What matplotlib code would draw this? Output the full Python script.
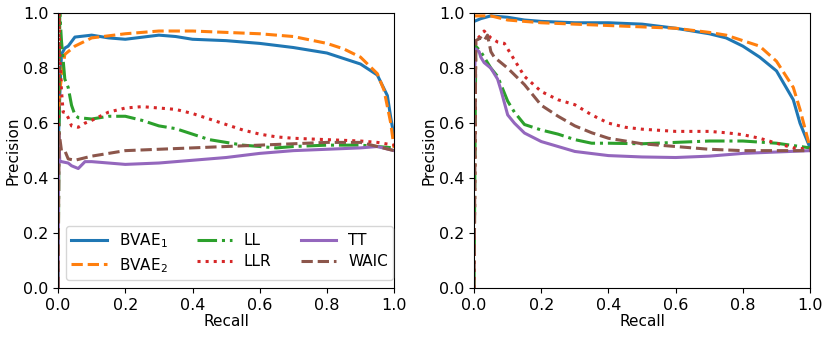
import numpy as np
import matplotlib
matplotlib.use("Agg")
import matplotlib.pyplot as plt

# ---- left panel ----
l_bvae1_r = [0.0, 0.005, 0.01, 0.02, 0.03, 0.05, 0.1, 0.15, 0.2, 0.3, 0.35, 0.4, 0.5, 0.6, 0.7, 0.8, 0.85, 0.9, 0.95, 0.98, 0.99, 1.0]
l_bvae1_p = [0.5, 0.70, 0.85, 0.873, 0.88, 0.913, 0.92, 0.91, 0.905, 0.92, 0.915, 0.905, 0.90, 0.89, 0.875, 0.855, 0.835, 0.815, 0.775, 0.70, 0.62, 0.55]

l_bvae2_r = [0.0, 0.005, 0.02, 0.05, 0.1, 0.2, 0.3, 0.4, 0.5, 0.6, 0.7, 0.8, 0.85, 0.9, 0.95, 0.97, 0.99, 1.0]
l_bvae2_p = [0.6, 0.72, 0.85, 0.88, 0.91, 0.925, 0.935, 0.935, 0.93, 0.925, 0.915, 0.89, 0.87, 0.84, 0.78, 0.72, 0.60, 0.51]

l_ll_r = [0.0, 0.005, 0.01, 0.02, 0.03, 0.04, 0.05, 0.06, 0.1, 0.15, 0.2, 0.25, 0.3, 0.35, 0.4, 0.45, 0.5, 0.55, 0.6, 0.65, 0.7, 0.8, 0.9, 1.0]
l_ll_p = [0.0, 1.0, 0.90, 0.76, 0.73, 0.665, 0.63, 0.62, 0.615, 0.625, 0.625, 0.61, 0.59, 0.58, 0.56, 0.54, 0.53, 0.52, 0.515, 0.51, 0.515, 0.52, 0.52, 0.51]

l_llr_r = [0.0, 0.003, 0.005, 0.01, 0.015, 0.02, 0.03, 0.04, 0.06, 0.08, 0.1, 0.15, 0.2, 0.25, 0.3, 0.35, 0.4, 0.45, 0.5, 0.55, 0.6, 0.65, 0.7, 0.8, 0.9, 0.95, 1.0]
l_llr_p = [0.0, 1.0, 0.85, 0.72, 0.64, 0.64, 0.62, 0.59, 0.585, 0.60, 0.61, 0.64, 0.655, 0.66, 0.655, 0.65, 0.635, 0.615, 0.595, 0.575, 0.56, 0.55, 0.545, 0.54, 0.535, 0.53, 0.52]

l_tt_r = [0.0, 0.002, 0.005, 0.01, 0.03, 0.04, 0.06, 0.08, 0.1, 0.15, 0.2, 0.3, 0.4, 0.5, 0.6, 0.7, 0.8, 0.9, 0.95, 1.0]
l_tt_p = [0.0, 0.56, 0.46, 0.46, 0.455, 0.445, 0.435, 0.46, 0.46, 0.455, 0.45, 0.455, 0.465, 0.475, 0.49, 0.50, 0.505, 0.51, 0.515, 0.50]

l_waic_r = [0.0, 0.003, 0.01, 0.02, 0.03, 0.05, 0.1, 0.2, 0.3, 0.4, 0.5, 0.6, 0.7, 0.8, 0.9, 1.0]
l_waic_p = [0.0, 0.565, 0.50, 0.50, 0.47, 0.465, 0.48, 0.50, 0.505, 0.51, 0.515, 0.52, 0.525, 0.53, 0.53, 0.50]

# ---- right panel ----
r_bvae1_r = [0.0, 0.02, 0.05, 0.1, 0.15, 0.2, 0.3, 0.4, 0.5, 0.6, 0.7, 0.75, 0.8, 0.85, 0.9, 0.95, 0.97, 1.0]
r_bvae1_p = [0.97, 0.98, 0.99, 0.985, 0.975, 0.97, 0.965, 0.965, 0.96, 0.945, 0.925, 0.91, 0.88, 0.84, 0.79, 0.685, 0.60, 0.51]

r_bvae2_r = [0.0, 0.05, 0.1, 0.2, 0.3, 0.4, 0.5, 0.6, 0.7, 0.75, 0.8, 0.85, 0.9, 0.95, 0.97, 1.0]
r_bvae2_p = [0.99, 0.99, 0.975, 0.965, 0.96, 0.955, 0.95, 0.945, 0.93, 0.92, 0.90, 0.88, 0.825, 0.73, 0.65, 0.51]

r_ll_r = [0.0, 0.005, 0.02, 0.05, 0.07, 0.08, 0.1, 0.12, 0.15, 0.2, 0.25, 0.3, 0.35, 0.4, 0.5, 0.6, 0.7, 0.8, 0.9, 1.0]
r_ll_p = [0.0, 0.88, 0.86, 0.80, 0.77, 0.74, 0.68, 0.64, 0.595, 0.575, 0.56, 0.54, 0.527, 0.527, 0.525, 0.53, 0.535, 0.535, 0.527, 0.51]

r_llr_r = [0.0, 0.005, 0.02, 0.03, 0.05, 0.07, 0.09, 0.1, 0.12, 0.15, 0.2, 0.25, 0.3, 0.35, 0.4, 0.45, 0.5, 0.6, 0.7, 0.75, 0.8, 0.85, 0.9, 0.95, 1.0]
r_llr_p = [0.0, 0.90, 0.92, 0.935, 0.91, 0.895, 0.89, 0.87, 0.83, 0.77, 0.715, 0.685, 0.667, 0.63, 0.60, 0.585, 0.578, 0.57, 0.57, 0.565, 0.558, 0.545, 0.527, 0.51, 0.505]

r_tt_r = [0.0, 0.005, 0.015, 0.02, 0.03, 0.05, 0.07, 0.08, 0.1, 0.12, 0.15, 0.2, 0.25, 0.3, 0.4, 0.5, 0.6, 0.7, 0.8, 0.9, 1.0]
r_tt_p = [0.75, 0.87, 0.86, 0.84, 0.82, 0.80, 0.76, 0.72, 0.63, 0.60, 0.564, 0.533, 0.515, 0.497, 0.482, 0.477, 0.475, 0.48, 0.49, 0.495, 0.50]

r_waic_r = [0.0, 0.005, 0.02, 0.03, 0.04, 0.05, 0.06, 0.1, 0.15, 0.2, 0.25, 0.3, 0.35, 0.4, 0.5, 0.6, 0.7, 0.8, 0.9, 1.0]
r_waic_p = [0.0, 0.90, 0.91, 0.90, 0.92, 0.86, 0.84, 0.80, 0.74, 0.665, 0.625, 0.59, 0.565, 0.545, 0.525, 0.515, 0.505, 0.50, 0.50, 0.50]

labels = ['BVAE$_1$', 'BVAE$_2$', 'LL', 'LLR', 'TT', 'WAIC']
colors = ['#1f77b4', '#ff7f0e', '#2ca02c', '#d62728', '#9467bd', '#8c564b']
styles = ['-', '--', '-.', ':', '-', '--']

left = [(l_bvae1_r, l_bvae1_p), (l_bvae2_r, l_bvae2_p), (l_ll_r, l_ll_p),
        (l_llr_r, l_llr_p), (l_tt_r, l_tt_p), (l_waic_r, l_waic_p)]
right = [(r_bvae1_r, r_bvae1_p), (r_bvae2_r, r_bvae2_p), (r_ll_r, r_ll_p),
         (r_llr_r, r_llr_p), (r_tt_r, r_tt_p), (r_waic_r, r_waic_p)]

plt.rcParams.update({'font.size': 11})
fig, axes = plt.subplots(1, 2, figsize=(8.3, 3.37), dpi=100)
fig.subplots_adjust(left=0.07, right=0.976, top=0.961, bottom=0.145, wspace=0.238)

for ax, panel in zip(axes, [left, right]):
    for (r, p), lab, c, ls in zip(panel, labels, colors, styles):
        ax.plot(r, p, color=c, linestyle=ls, linewidth=2.2, label=lab)
    ax.set_xlim(0, 1)
    ax.set_ylim(0, 1)
    ax.tick_params(labelsize=11.5)
    ax.set_xlabel('Recall', labelpad=1)
    ax.set_ylabel('Precision', labelpad=2)

axes[0].legend(ncol=3, loc='lower right', bbox_to_anchor=(0.997, 0.03),
               borderaxespad=0, handlelength=2.3, columnspacing=1.9,
               labelspacing=0.4, borderpad=0.35)

plt.savefig("out.png", dpi=100)
